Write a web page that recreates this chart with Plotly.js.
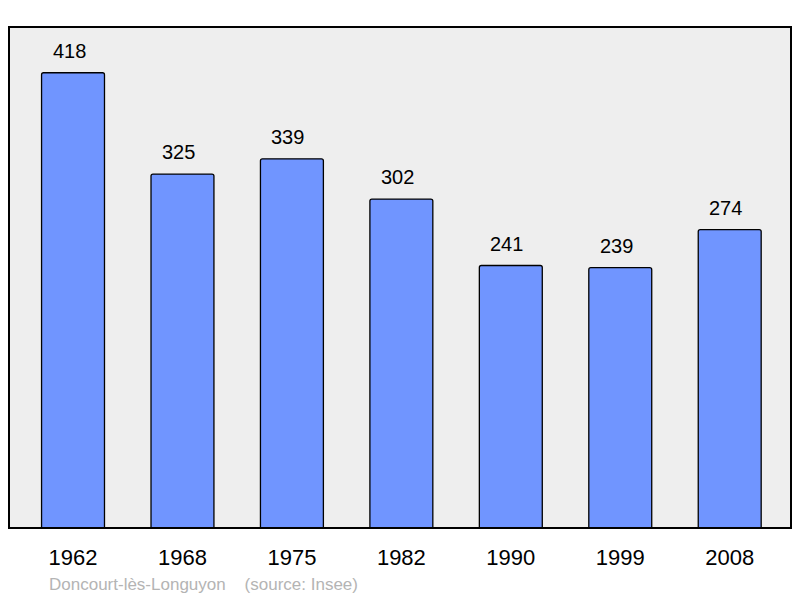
<!DOCTYPE html>
<html><head><meta charset="utf-8">
<script src="https://cdn.plot.ly/plotly-3.0.1.min.js"></script>
<style>body{margin:0;background:#fff}#c{width:800px;height:598px}</style>
</head><body><div id="c"></div>
<script>
const years = ["1962","1968","1975","1982","1990","1999","2008"];
const population = [418,325,339,302,241,239,274];
const sourceText = "Doncourt-lès-Longuyon    (source: Insee)";

const trace = {
  type: "bar", x: years, y: population,
  width: 0.575,
  marker: {color: "#7095ff", line: {color: "#000", width: 1.3}, cornerradius: 2},
  hoverinfo: "none"
};
const ann = years.map((y,i)=>({
  x: i, y: population[i], xref:"x", yref:"y", text: String(population[i]),
  showarrow:false, yanchor:"bottom", yshift:9, xshift:-4,
  font:{family:"Liberation Sans, Arial, sans-serif", size:20, color:"#000"}
}));
ann.push({xref:"paper", yref:"paper", x:(47-9)/782, y:-0.112, xanchor:"left", yanchor:"middle",
  text: sourceText, showarrow:false,
  font:{family:"Liberation Sans, Arial, sans-serif", size:17, color:"#b4b4b4"}});

const layout = {
  width:800, height:598,
  margin:{l:9,r:9,t:27,b:70,pad:0},
  paper_bgcolor:"#fff", plot_bgcolor:"#eeeeee",
  showlegend:false,
  xaxis:{type:"category", range:[-0.585,6.56], showgrid:false, zeroline:false, showline:false,
    ticks:"", ticklabelstandoff:14, tickfont:{family:"Liberation Sans, Arial, sans-serif", size:22, color:"#000"}, fixedrange:true},
  yaxis:{range:[0,460], showgrid:false, zeroline:false, showline:false, showticklabels:false, ticks:"", fixedrange:true},
  annotations: ann,
  shapes:[{type:"rect", xref:"paper", yref:"paper", x0:0, x1:1, y0:0, y1:1,
    line:{color:"#000", width:2}, layer:"above"}]
};
Plotly.newPlot("c",[trace],layout,{displayModeBar:false, staticPlot:true});
</script></body></html>
